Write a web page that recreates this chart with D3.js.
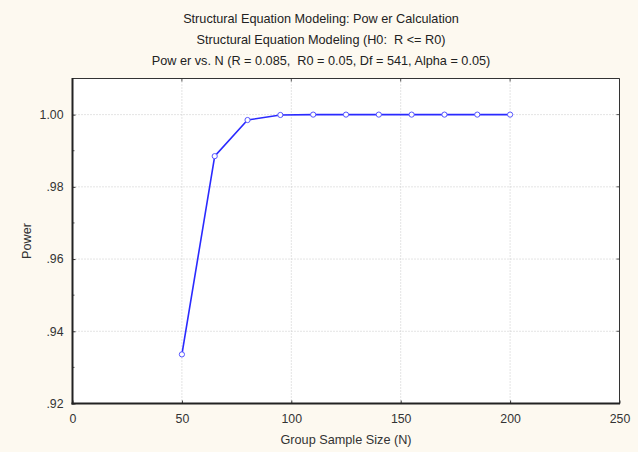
<!DOCTYPE html>
<html>
<head>
<meta charset="utf-8">
<script src="https://cdn.jsdelivr.net/npm/d3@7"></script>
<style>
  body { margin: 0; background: #fdf9f0; }
  svg { display: block; font-family: "Liberation Sans", Arial, sans-serif; }
</style>
</head>
<body>
<div id="chart"></div>
<script>
var titles = [
  "Structural Equation Modeling: Pow er Calculation",
  "Structural Equation Modeling (H0:  R <= R0)",
  "Pow er vs. N (R = 0.085,  R0 = 0.05, Df = 541, Alpha = 0.05)"
];
var groupN = [50, 65, 80, 95, 110, 125, 140, 155, 170, 185, 200];
var power = [0.9336, 0.9885, 0.9985, 0.9999, 1.0, 1.0, 1.0, 1.0, 1.0, 1.0, 1.0];
var xTicks = [0, 50, 100, 150, 200, 250];
var yTicks = [0.92, 0.94, 0.96, 0.98, 1.00];
var yMinor = [0.93, 0.95, 0.97, 0.99];
var yTickLabels = [".92", ".94", ".96", ".98", "1.00"];

var width = 638, height = 452;
var margin = { top: 78.5, right: 18.5, bottom: 48.5, left: 72.5 };
var iw = width - margin.left - margin.right,
  ih = height - margin.top - margin.bottom;

var svg = d3.select("#chart").append("svg")
  .attr("width", width)
  .attr("height", height);

svg.append("rect").attr("width", width).attr("height", height).attr("fill", "#fdf9f0");

// titles (keep the double spaces)
svg.selectAll("text.title")
  .data(titles)
  .enter().append("text")
  .attr("class", "title")
  .attr("x", 321)
  .attr("y", function(d, i) { return 23 + i * 21; })
  .attr("text-anchor", "middle")
  .attr("font-size", 12.7)
  .attr("fill", "#222")
  .style("white-space", "pre")
  .text(function(d) { return d; });

var xScale = d3.scaleLinear().domain([0, 250]).range([0, iw]);
var yScale = d3.scaleLinear().domain([0.92, 1.01]).range([ih, 0]);

var g = svg.append("g")
  .attr("transform", "translate(" + margin.left + "," + margin.top + ")");

g.append("rect").attr("width", iw).attr("height", ih).attr("fill", "#fff");

// grid
g.selectAll("line.vgrid")
  .data(xTicks.slice(1, -1))
  .enter().append("line")
  .attr("x1", xScale).attr("x2", xScale)
  .attr("y1", 0).attr("y2", ih)
  .attr("stroke", "#c8c8c8")
  .attr("stroke-dasharray", "1,2");

g.selectAll("line.hgrid")
  .data(yTicks.slice(1))
  .enter().append("line")
  .attr("x1", 0).attr("x2", iw)
  .attr("y1", yScale).attr("y2", yScale)
  .attr("stroke", "#c8c8c8")
  .attr("stroke-dasharray", "1,2");

// axes (ticks pointing inward)
var xAxis = d3.axisBottom(xScale).tickValues(xTicks).tickSize(-3).tickPadding(11);
var yAxis = d3.axisLeft(yScale).tickValues(yTicks)
  .tickFormat(function(d, i) { return yTickLabels[i]; })
  .tickSize(-3).tickPadding(9);

var gx = g.append("g").attr("transform", "translate(0," + ih + ")").call(xAxis);
var gy = g.append("g").call(yAxis);
[gx, gy].forEach(function(a) {
  a.select(".domain").remove();
  a.selectAll("text").attr("font-size", 12.3).attr("fill", "#333")
    .attr("font-family", "Liberation Sans, Arial, sans-serif");
  a.selectAll(".tick line").attr("stroke", "#333");
});

g.selectAll("line.yminor")
  .data(yMinor)
  .enter().append("line")
  .attr("x1", 0).attr("x2", 2)
  .attr("y1", yScale).attr("y2", yScale)
  .attr("stroke", "#555");

// right / top ticks
g.selectAll("line.rtick")
  .data(yTicks)
  .enter().append("line")
  .attr("x1", iw).attr("x2", iw - 3)
  .attr("y1", yScale).attr("y2", yScale)
  .attr("stroke", "#555");
g.selectAll("line.ttick")
  .data(xTicks)
  .enter().append("line")
  .attr("x1", xScale).attr("x2", xScale)
  .attr("y1", 0).attr("y2", 3)
  .attr("stroke", "#555");

// frame
g.append("line").attr("x1", 0).attr("x2", iw).attr("y1", 0).attr("y2", 0)
  .attr("stroke", "#333").attr("stroke-width", 1);
g.append("line").attr("x1", iw).attr("x2", iw).attr("y1", 0).attr("y2", ih)
  .attr("stroke", "#333").attr("stroke-width", 1);
g.append("line").attr("x1", 0).attr("x2", 0).attr("y1", -0.5).attr("y2", ih + 1)
  .attr("stroke", "#222").attr("stroke-width", 2);
g.append("line").attr("x1", -1).attr("x2", iw + 0.5).attr("y1", ih).attr("y2", ih)
  .attr("stroke", "#222").attr("stroke-width", 2);

// series
var data = groupN.map(function(n, i) { return [n, power[i]]; });
var line = d3.line()
  .x(function(d) { return xScale(d[0]); })
  .y(function(d) { return yScale(d[1]); });

g.append("path")
  .datum(data)
  .attr("d", line)
  .attr("fill", "none")
  .attr("stroke", "#2a2aff")
  .attr("stroke-width", 1.6);

g.selectAll("circle.pt")
  .data(data)
  .enter().append("circle")
  .attr("cx", function(d) { return xScale(d[0]); })
  .attr("cy", function(d) { return yScale(d[1]); })
  .attr("r", 2.6)
  .attr("fill", "#fff")
  .attr("stroke", "#5555ff")
  .attr("stroke-width", 1);

// axis titles
svg.append("text")
  .attr("x", margin.left + iw / 2)
  .attr("y", 444)
  .attr("text-anchor", "middle")
  .attr("font-size", 12.7)
  .attr("fill", "#333")
  .text("Group Sample Size (N)");

svg.append("text")
  .attr("transform", "translate(31," + (margin.top + ih / 2) + ") rotate(-90)")
  .attr("text-anchor", "middle")
  .attr("font-size", 12.7)
  .attr("fill", "#333")
  .text("Power");
</script>
</body>
</html>
